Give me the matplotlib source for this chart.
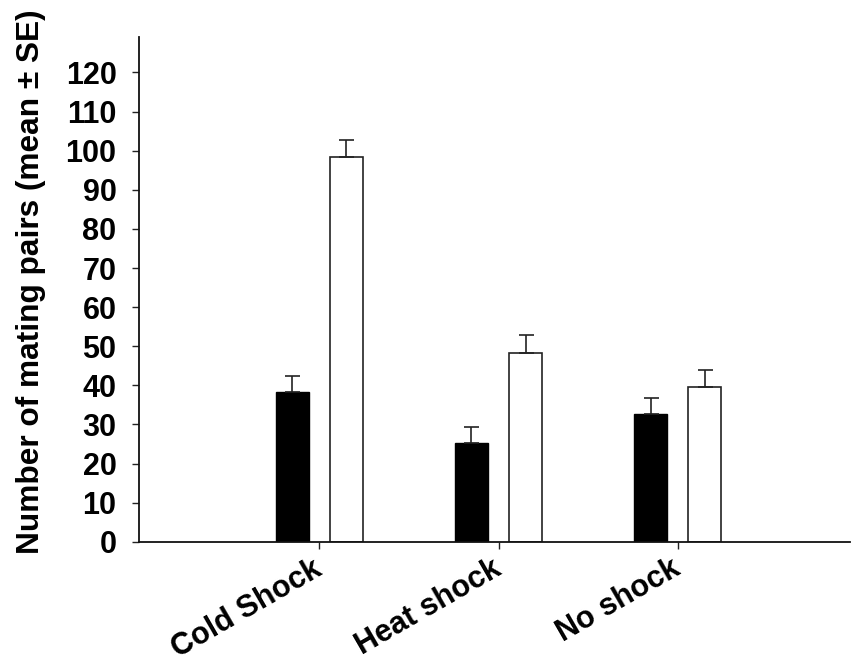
import matplotlib
matplotlib.use("Agg")
import matplotlib.pyplot as plt
import numpy as np

categories = ["Cold Shock", "Heat shock", "No shock"]
black_vals = [38.2, 25.2, 32.6]
black_se = [4.2, 4.2, 4.2]
white_vals = [98.3, 48.4, 39.5]
white_se = [4.4, 4.4, 4.4]
yticks = list(range(0, 121, 10))

plt.rcParams['font.family'] = ['Liberation Sans', 'DejaVu Sans']
plt.rcParams['font.weight'] = 'bold'

fig = plt.figure(figsize=(8.52, 6.64), dpi=100)
W, H = 852, 664
left, right, bottom, top = 139.3, 850, 541.8, 37.3
ax = fig.add_axes([left / W, 1 - bottom / H, (right - left) / W, (bottom - top) / H])

x = np.arange(len(categories))
bw = 0.184
off = 0.151
ax.bar(x - off, black_vals, bw, color='black', edgecolor='black', linewidth=1)
ax.bar(x + off, white_vals, bw, color='white', edgecolor='#222222', linewidth=1.2, zorder=2)
ax.errorbar(x - off, black_vals, yerr=[np.zeros(3), black_se], fmt='none',
            ecolor='#222222', elinewidth=1.2, capsize=5.4, capthick=1.2, zorder=3)
ax.errorbar(x + off, white_vals, yerr=[np.zeros(3), white_se], fmt='none',
            ecolor='#222222', elinewidth=1.2, capsize=5.4, capthick=1.2, zorder=3)

FS = 22
ax.set_xlim(-1.003, 2.96)
ax.set_ylim(0, 129)
ax.set_yticks(yticks)
ax.set_yticklabels([str(v) for v in yticks], fontsize=FS, fontweight='bold')
ax.set_xticks(x)
ax.set_xticklabels(categories, fontsize=FS, fontweight='bold', rotation=30,
                   ha='right', va='center', rotation_mode='anchor')
ax.tick_params(axis='y', direction='out', length=5.4, width=1, pad=11, color='#222222')
ax.tick_params(axis='x', direction='out', length=5, width=1, pad=13, color='#222222')

for s in ['top', 'right']:
    ax.spines[s].set_visible(False)
for s in ['left', 'bottom']:
    ax.spines[s].set_linewidth(1.3)
    ax.spines[s].set_color('#111111')

fig.text(31 / W, 1 - 282 / H, "Number of mating pairs (mean \u00b1 SE)", rotation=90,
         ha='center', va='center', fontsize=22.8, fontweight='bold')

fig.savefig("out.png", dpi=100)
